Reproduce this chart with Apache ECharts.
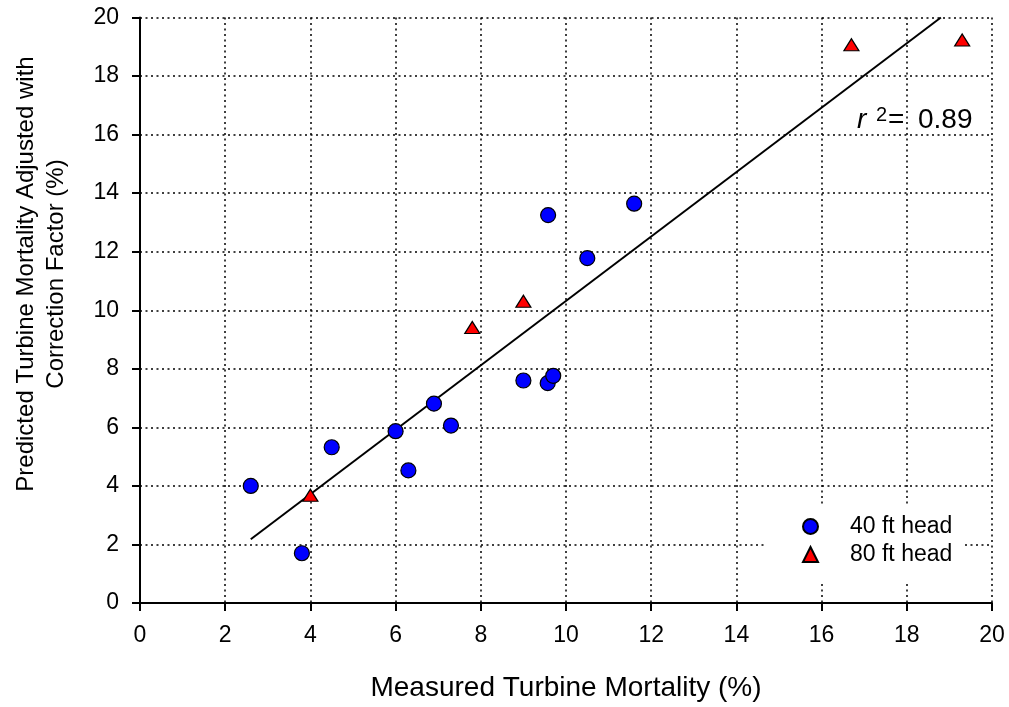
<!DOCTYPE html>
<html>
<head>
<meta charset="utf-8">
<script src="https://cdn.jsdelivr.net/npm/echarts@6/dist/echarts.min.js"></script>
<style>
  html, body { margin: 0; padding: 0; background: #fff; }
  #chart { width: 1009px; height: 707px; }
</style>
</head>
<body>
<div id="chart"></div>
<script>
// Measured vs predicted turbine mortality (%)
const head40X = [2.6, 3.8, 4.5, 6.0, 6.3, 6.9, 7.3, 9.0, 9.57, 9.7, 9.58, 10.5, 11.6];
const head40Y = [4.0, 1.7, 5.32, 5.87, 4.53, 6.81, 6.06, 7.6, 7.51, 7.76, 13.25, 11.78, 13.64];
const head80X = [4.0, 7.8, 9.0, 16.7, 19.3];
const head80Y = [3.68, 9.41, 10.31, 19.07, 19.23];
// regression line end points
const fitX = [2.6, 18.8];
const fitY = [2.18, 20.0];
const axisTicks = [0, 2, 4, 6, 8, 10, 12, 14, 16, 18, 20];
const seriesNames = ['40 ft head', '80 ft head'];
const xTitle = 'Measured Turbine Mortality (%)';
const yTitle = ['Predicted Turbine Mortality Adjusted with', 'Correction Factor (%)'];
const rSquared = '0.89';

const FONT = "'Liberation Sans', Arial, sans-serif";
const zip = (xs, ys) => xs.map((x, i) => [x, ys[i]]);

const gridLine = { show: true, lineStyle: { color: '#000', width: 1.5, type: [2, 3.5] } };
const axisCommon = {
  type: 'value',
  min: axisTicks[0],
  max: axisTicks[axisTicks.length - 1],
  interval: axisTicks[1] - axisTicks[0],
  axisLine: { show: true, onZero: false, lineStyle: { color: '#000', width: 2 } },
  axisTick: { show: true, inside: false, length: 8, lineStyle: { color: '#000', width: 2 } },
  axisLabel: { color: '#000', fontFamily: FONT, fontSize: 23, margin: 21 },
  splitLine: gridLine
};

const chart = echarts.init(document.getElementById('chart'), null, { renderer: 'canvas' });
chart.setOption({
  animation: false,
  backgroundColor: '#fff',
  grid: { left: 140, right: 17, top: 17.5, bottom: 99.5, containLabel: false },
  xAxis: Object.assign({}, axisCommon, {
    name: xTitle,
    nameLocation: 'middle',
    nameGap: 71,
    nameTextStyle: { color: '#000', fontFamily: FONT, fontSize: 28, lineHeight: 28 }
  }),
  yAxis: Object.assign({}, axisCommon),
  legend: {
    orient: 'vertical',
    left: 766,
    top: 505,
    padding: [10, 10, 16, 36],
    backgroundColor: '#fff',
    itemWidth: 15,
    itemHeight: 15,
    itemGap: 5,
    textStyle: { color: '#000', fontFamily: FONT, fontSize: 23, lineHeight: 23, padding: [0, 0, 0, 27] },
    data: seriesNames
  },
  graphic: [
    {
      type: 'text', x: 41, y: 274, rotation: Math.PI / 2,
      style: {
        text: yTitle.join('\n'), fill: '#000', font: '24px ' + FONT,
        lineHeight: 30, align: 'center', verticalAlign: 'middle'
      }
    },
    { type: 'text', x: 857, y: 106, style: { text: 'r', fill: '#000', font: 'italic 28px ' + FONT } },
    { type: 'text', x: 876, y: 105, style: { text: '2', fill: '#000', font: '20px ' + FONT } },
    { type: 'text', x: 888, y: 106, style: { text: '=', fill: '#000', font: '28px ' + FONT } },
    { type: 'text', x: 918, y: 106, style: { text: rSquared, fill: '#000', font: '28px ' + FONT } }
  ],
  series: [
    {
      type: 'line', data: zip(fitX, fitY), symbol: 'none', silent: true,
      lineStyle: { color: '#000', width: 2 }, z: 1
    },
    {
      name: seriesNames[0], type: 'scatter', data: zip(head40X, head40Y),
      symbol: 'circle', symbolSize: 15, z: 3,
      itemStyle: { color: '#0000ff', borderColor: '#000', borderWidth: 1.2, opacity: 1 }
    },
    {
      name: seriesNames[1], type: 'scatter', data: zip(head80X, head80Y),
      symbol: 'triangle', symbolSize: [15, 12], z: 3,
      itemStyle: { color: '#ff0000', borderColor: '#000', borderWidth: 1.2, opacity: 1 }
    }
  ]
});
</script>
</body>
</html>
